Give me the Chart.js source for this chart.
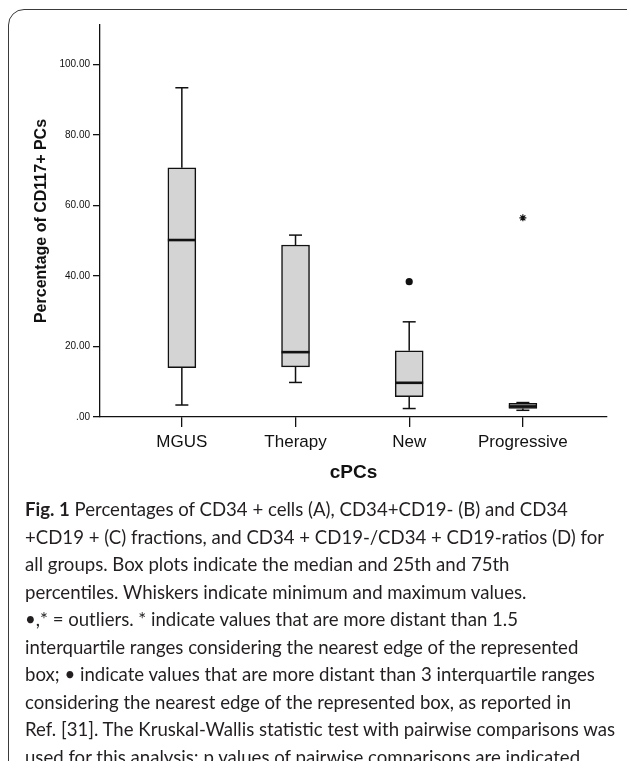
<!DOCTYPE html>
<html>
<head>
<meta charset="utf-8">
<script src="https://cdn.jsdelivr.net/npm/chart.js@4"></script>
<style>
  html, body { margin: 0; padding: 0; background: #fff; }
  body { width: 627px; height: 761px; position: relative; overflow: hidden; }
  #frame {
    position: absolute; left: 8px; top: 9px; width: 700px; height: 800px;
    border: 1.5px solid #3a3a3a; border-top-left-radius: 16px; box-sizing: border-box;
  }
  #wrap { position: absolute; left: 0; top: 0; width: 627px; height: 500px; }
  #caption {
    position: absolute; left: 25px; top: 496px; white-space: nowrap;
    font-family: Lato, "Open Sans", sans-serif; font-size: 18.6px; line-height: 27.5px; color: #231f20;
  }
  #caption b { font-weight: bold; }
</style>
</head>
<body>
<div id="frame"></div>
<div id="wrap"><canvas id="box-chart" width="627" height="500"></canvas></div>
<div id="caption">
<b>Fig. 1</b> Percentages of CD34 + cells (A), CD34+CD19- (B) and CD34<br>
+CD19 + (C) fractions, and CD34 + CD19-/CD34 + CD19-ratios (D) for<br>
all groups. Box plots indicate the median and 25th and 75th<br>
percentiles. Whiskers indicate minimum and maximum values.<br>
•,* = outliers. * indicate values that are more distant than 1.5<br>
interquartile ranges considering the nearest edge of the represented<br>
box; • indicate values that are more distant than 3 interquartile ranges<br>
considering the nearest edge of the represented box, as reported in<br>
Ref. [31]. The Kruskal-Wallis statistic test with pairwise comparisons was<br>
used for this analysis; p values of pairwise comparisons are indicated
</div>
<script>
const CATEGORIES = ["MGUS", "Therapy", "New", "Progressive"];
const MINS = [3.4, 9.8, 2.4, 1.9];
const Q1 = [14.0, 14.2, 5.8, 2.4];
const MEDIANS = [50.2, 18.4, 9.7, 3.0];
const Q3 = [70.7, 48.8, 18.8, 3.9];
const MAXS = [93.4, 51.6, 27.0, 4.1];
const CIRCLE_OUTLIERS = [{ group: 2, value: 38.4 }];
const STAR_OUTLIERS = [{ group: 3, value: 56.5 }];
const Y_TICKS = [0, 20, 40, 60, 80, 100];

const INK = "#111";

function buildWhiskers() {
    const pts = [];
    CATEGORIES.forEach((c, i) => {
        pts.push({ x: i, y: MAXS[i] }, { x: i, y: Q3[i] }, { x: i, y: null });
        pts.push({ x: i, y: Q1[i] }, { x: i, y: MINS[i] }, { x: i, y: null });
    });
    return pts;
}

const canvas = document.getElementById("box-chart");
new Chart(canvas, {
    type: "scatter",
    data: {
        datasets: [
            {
                type: "scatter",
                order: 1,
                data: MEDIANS.map((v, i) => ({ x: i, y: v })),
                pointStyle: "line",
                pointRadius: 14,
                borderColor: INK,
                borderWidth: 2.6
            },
            {
                type: "scatter",
                order: 1,
                data: CIRCLE_OUTLIERS.map(o => ({ x: o.group, y: o.value })),
                pointStyle: "circle",
                pointRadius: 3.6,
                backgroundColor: INK,
                borderColor: INK,
                borderWidth: 0
            },
            {
                type: "scatter",
                order: 1,
                data: STAR_OUTLIERS.map(o => ({ x: o.group, y: o.value })),
                pointStyle: "star",
                pointRadius: 3.5,
                borderColor: INK,
                borderWidth: 1.2
            },
            {
                type: "scatter",
                order: 2,
                data: CATEGORIES.flatMap((c, i) => [{ x: i, y: MAXS[i] }, { x: i, y: MINS[i] }]),
                pointStyle: "line",
                pointRadius: 6.5,
                borderColor: INK,
                borderWidth: 1.5
            },
            {
                type: "line",
                order: 3,
                data: buildWhiskers(),
                borderColor: INK,
                borderWidth: 1.5,
                pointRadius: 0,
                spanGaps: false,
                tension: 0
            },
            {
                type: "bar",
                order: 4,
                data: CATEGORIES.map((c, i) => ({ x: i, y: [Q1[i], Q3[i]] })),
                backgroundColor: "#d4d4d4",
                borderColor: INK,
                borderWidth: 1.5,
                borderSkipped: false,
                barThickness: 28
            }
        ]
    },
    options: {
        responsive: false,
        animation: false,
        events: [],
        layout: { padding: { top: 25, right: 20, left: 30, bottom: 0 } },
        plugins: {
            legend: { display: false },
            tooltip: { enabled: false }
        },
        scales: {
            x: {
                type: "linear",
                min: -0.72,
                max: 3.74,
                offset: false,
                afterBuildTicks: scale => {
                    scale.ticks = CATEGORIES.map((c, i) => ({ value: i }));
                },
                afterFit: scale => { scale.height = 83; },
                ticks: {
                    autoSkip: false,
                    maxRotation: 0,
                    padding: 5,
                    color: INK,
                    font: { family: "'Liberation Sans', Arial", size: 17 },
                    callback: v => CATEGORIES[v]
                },
                grid: { offset: false, drawOnChartArea: false, drawTicks: true, tickLength: 10, color: INK, lineWidth: 1.3 },
                border: { display: true, color: INK, width: 1.3 },
                title: {
                    display: true,
                    text: "cPCs",
                    color: INK,
                    font: { family: "'Liberation Sans', Arial", size: 19, weight: "bold" },
                    padding: { top: 0, bottom: 16 }
                }
            },
            y: {
                min: 0,
                max: 111.2,
                afterBuildTicks: scale => {
                    scale.ticks = Y_TICKS.map(v => ({ value: v }));
                },
                afterFit: scale => { scale.width = 70; },
                ticks: {
                    padding: 3,
                    color: INK,
                    font: { family: "'Liberation Sans', Arial", size: 10 },
                    callback: v => (v === 0 ? ".00" : v.toFixed(2))
                },
                grid: { drawOnChartArea: false, drawTicks: true, tickLength: 7, color: INK, lineWidth: 1.3 },
                border: { display: true, color: INK, width: 1.3 },
                title: {
                    display: true,
                    text: "Percentage of CD117+ PCs",
                    color: INK,
                    font: { family: "'Liberation Sans', Arial", size: 16, weight: "bold" },
                    padding: { top: 2, bottom: 0 }
                }
            }
        }
    }
});
</script>
</body>
</html>
